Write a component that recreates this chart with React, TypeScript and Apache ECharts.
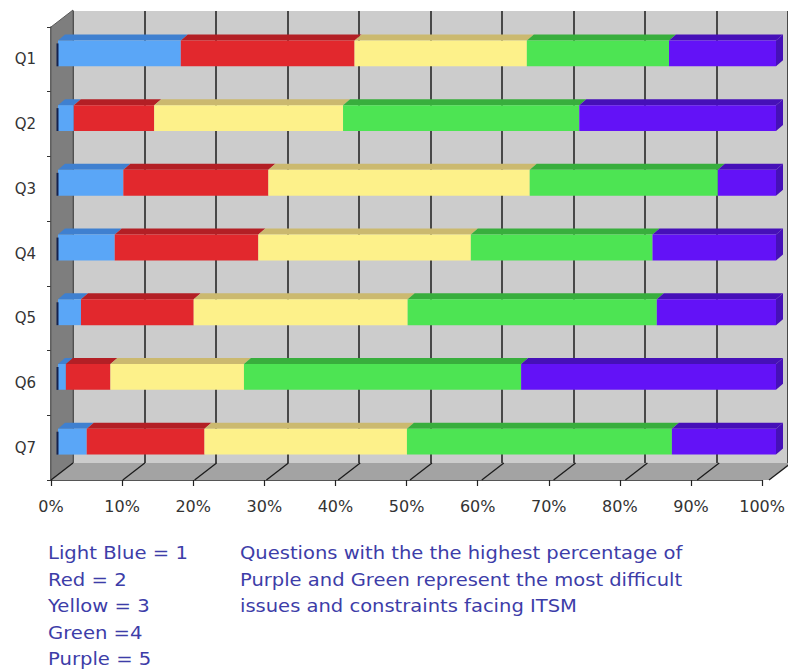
import { useEffect, useRef } from 'react';
import * as echarts from 'echarts';

// Survey answers per question, as percentage shares of each rating (1..5)
const categories = ['Q1', 'Q2', 'Q3', 'Q4', 'Q5', 'Q6', 'Q7'];
const lightBlue = [17.1, 2.2, 9.1, 7.9, 3.2, 1.1, 4.0];
const red = [24.2, 11.2, 20.2, 20.0, 15.7, 6.2, 16.4];
const yellow = [24.0, 26.3, 36.4, 29.6, 29.8, 18.6, 28.2];
const green = [19.8, 32.9, 26.2, 25.3, 34.7, 38.6, 36.9];
const purple = [14.9, 27.4, 8.1, 17.2, 16.6, 35.5, 14.5];

const segmentNames = ['Light Blue', 'Red', 'Yellow', 'Green', 'Purple'];
const segmentValues = [lightBlue, red, yellow, green, purple];

const xTicks = [0, 10, 20, 30, 40, 50, 60, 70, 80, 90, 100];

const legendLines = ['Light Blue = 1', 'Red = 2', 'Yellow = 3', 'Green =4', 'Purple = 5'];
const noteLines = [
  'Questions with the the highest percentage of',
  'Purple and Green represent the most difficult',
  'issues and constraints facing ITSM',
];

// face / shaded side colours of the 3D bars
const FACE = ['#5aa6f7', '#e2282d', '#fdf18a', '#4de453', '#6312f7'];
const SHADE = ['#3f80d0', '#b31f25', '#cbb96f', '#38ae3d', '#4610b8'];

// depth offsets: front plane, back wall, and bar thickness relative to the bar plane
const FX = -7, FY = 6;
const BX = 15, BY = -11;
const DX = 7, DY = -6;

const FONT = '"DejaVu Sans", Verdana, sans-serif';

function planeBounds(api: any) {
  const a = api.coord([0, 0]);
  const b = api.coord([100, categories.length - 1]);
  const band = api.coord([0, 1])[1] - a[1];
  return { xl: a[0], xr: b[0], top: a[1] - band / 2, bot: b[1] + band / 2, band };
}

function buildSegments() {
  return segmentValues.map((vals, k) =>
    vals.map((v, i) => {
      let start = 0;
      for (let j = 0; j < k; j++) start += segmentValues[j][i];
      return [start, start + v, i];
    })
  );
}

export default function App() {
  const ref = useRef<HTMLDivElement>(null);

  useEffect(() => {
    document.body.style.margin = '0';
    if (!ref.current) return;
    const chart = echarts.init(ref.current, undefined, { renderer: 'svg' });
    const segments = buildSegments();

    const barSeries = segments.map((data, k) => ({
      type: 'custom',
      name: segmentNames[k],
      xAxisIndex: 1,
      yAxisIndex: 1,
      clip: false,
      z: 10 + k,
      encode: { x: [0, 1], y: 2 },
      data,
      renderItem: (_params: any, api: any) => {
        const s = api.value(0);
        const e = api.value(1);
        const c = api.value(2);
        const p0 = api.coord([s, c]);
        const p1 = api.coord([e, c]);
        const band = api.coord([0, 1])[1] - api.coord([0, 0])[1];
        const h = band * 0.4;
        const top = p0[1] - h / 2;
        const bot = p0[1] + h / 2;
        const x0 = p0[0];
        const x1 = p1[0];
        const children: any[] = [
          {
            type: 'polygon',
            shape: { points: [[x0, top], [x1, top], [x1 + DX, top + DY], [x0 + DX, top + DY]] },
            style: { fill: SHADE[k] },
          },
          {
            type: 'rect',
            shape: { x: x0, y: top, width: x1 - x0, height: h },
            style: { fill: FACE[k] },
          },
        ];
        if (k === segments.length - 1) {
          children.push({
            type: 'polygon',
            shape: { points: [[x1, top], [x1 + DX, top + DY], [x1 + DX, bot + DY], [x1, bot]] },
            style: { fill: SHADE[k] },
          });
        }
        if (k === 0) {
          children.push({
            type: 'line',
            shape: { x1: x0 - 0.5, y1: top + 3, x2: x0 - 0.5, y2: bot },
            style: { stroke: '#15224d', lineWidth: 2 },
          });
        }
        return { type: 'group', children };
      },
    }));

    const option: any = {
      animation: false,
      backgroundColor: '#ffffff',
      grid: [
        // back wall
        { left: 73, right: -3, top: 11, bottom: 206, show: true, backgroundColor: '#cccccc', borderWidth: 0 },
        // bar plane
        { left: 58, right: 12, top: 21, bottom: 195 },
        // front plane (axes)
        { left: 51, right: 19, top: 27, bottom: 189 },
      ],
      xAxis: [
        {
          gridIndex: 0, type: 'value', min: 0, max: 100, interval: 10,
          axisLine: { show: false }, axisTick: { show: false }, axisLabel: { show: false },
          splitLine: { show: true, lineStyle: { color: '#1c1c1c', width: 1.5 } },
        },
        {
          gridIndex: 1, type: 'value', min: 0, max: 100, interval: 10, show: false,
          splitLine: { show: false },
        },
        {
          gridIndex: 2, type: 'value', min: 0, max: 100, interval: 10,
          axisLine: { show: true, lineStyle: { color: '#555555', width: 1 } },
          axisTick: { show: true, length: 6, lineStyle: { color: '#222222', width: 1.2 } },
          axisLabel: { formatter: '{value}%', fontSize: 16, color: '#333333', fontFamily: FONT, margin: 18 },
          splitLine: { show: false },
        },
      ],
      yAxis: [
        { gridIndex: 0, type: 'category', data: categories, inverse: true, show: false },
        { gridIndex: 1, type: 'category', data: categories, inverse: true, show: false },
        {
          gridIndex: 2, type: 'category', data: categories, inverse: true,
          axisLine: { show: true, lineStyle: { color: '#333333', width: 1.5 } },
          axisTick: { show: true, length: 4, lineStyle: { color: '#333333' } },
          axisLabel: { fontSize: 15, color: '#333333', fontFamily: FONT, margin: 15 },
          splitLine: { show: false },
        },
      ],
      series: [
        {
          // side wall and floor
          type: 'custom',
          xAxisIndex: 1,
          yAxisIndex: 1,
          clip: false,
          z: 3,
          silent: true,
          data: [[0, 0]],
          renderItem: (_p: any, api: any) => {
            const { xl, xr, top, bot } = planeBounds(api);
            return {
              type: 'group',
              children: [
                {
                  type: 'polygon',
                  shape: { points: [[xl + FX, top + FY], [xl + BX, top + BY], [xl + BX, bot + BY], [xl + FX, bot + FY]] },
                  style: { fill: '#7e7e7e', stroke: '#5a5a5a', lineWidth: 1 },
                },
                {
                  type: 'polygon',
                  shape: { points: [[xl + FX, bot + FY], [xr + FX, bot + FY], [xr + BX, bot + BY], [xl + BX, bot + BY]] },
                  style: { fill: '#a3a3a3' },
                },
              ],
            };
          },
        },
        {
          // floor grid lines
          type: 'custom',
          xAxisIndex: 1,
          yAxisIndex: 1,
          clip: false,
          z: 4,
          silent: true,
          data: xTicks.map((t) => [t, 0]),
          renderItem: (_p: any, api: any) => {
            const { bot } = planeBounds(api);
            const x = api.coord([api.value(0), 0])[0];
            return {
              type: 'line',
              shape: { x1: x + BX, y1: bot + BY, x2: x + FX, y2: bot + FY },
              style: { stroke: '#1c1c1c', lineWidth: 1.3 },
            };
          },
        },
        ...barSeries,
      ],
      graphic: [
        {
          type: 'text',
          left: 48,
          top: 540,
          scaleX: 1.09,
          style: {
            text: legendLines.join('\n'),
            fontSize: 18,
            fontFamily: FONT,
            fill: '#3d3da8',
            lineHeight: 26.4,
          },
        },
        {
          type: 'text',
          left: 240,
          top: 540,
          scaleX: 1.085,
          style: {
            text: noteLines.join('\n'),
            fontSize: 18,
            fontFamily: FONT,
            fill: '#3d3da8',
            lineHeight: 26.4,
          },
        },
      ],
    };

    chart.setOption(option);
    return () => chart.dispose();
  }, []);

  return <div ref={ref} style={{ width: 788, height: 669 }} />;
}
